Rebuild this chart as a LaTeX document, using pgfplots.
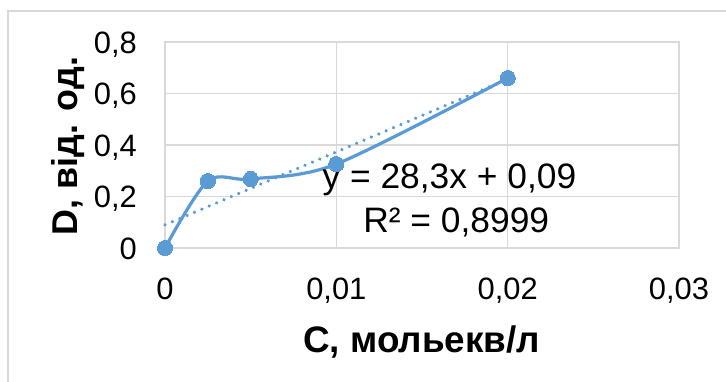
\documentclass[border=0pt]{standalone}
\usepackage{pgfplots}
\pgfplotsset{compat=1.18}
\usepackage{fontspec}
\setmainfont{Liberation Sans}
\definecolor{exblue}{HTML}{5B9BD5}
\definecolor{exgrid}{HTML}{D9D9D9}
\begin{document}
\begin{tikzpicture}[x=1bp,y=1bp]
\path[use as bounding box] (0,0) rectangle (726,-381);
\draw[exgrid, line width=1.2bp] (8,-11) rectangle (780,-440);
\begin{axis}[
  at={(165bp,-248bp)}, anchor=south west,
  scale only axis, width=514bp, height=206bp,
  xmin=0, xmax=0.03, ymin=0, ymax=0.8,
  clip=false,
  xtick={0,0.01,0.02,0.03}, ytick={0,0.2,0.4,0.6,0.8},
  xticklabels={0,{0,01},{0,02},{0,03}},
  yticklabels={0,{0,2},{0,4},{0,6},{0,8}},
  scaled x ticks=false, scaled y ticks=false,
  grid=major, grid style={exgrid, line width=1.2bp},
  axis line style={exgrid, line width=1.2bp},
  tick style={draw=none},
  ticklabel style={font=\fontsize{31}{36}\selectfont, inner sep=0pt},
  xticklabel style={anchor=base, yshift=-51bp},
  yticklabel style={anchor=base east, xshift=-28bp, yshift=-11bp},
  xlabel={C, мольекв/л},
  ylabel={D, від. од.},
  xlabel style={at={(axis description cs:0.4995,0)}, anchor=base, yshift=-104bp, font=\bfseries\fontsize{37}{40}\selectfont, inner sep=0pt},
  ylabel style={at={(axis description cs:-0.1712,0.495)}, anchor=base, rotate=0, font=\bfseries\fontsize{36}{40}\selectfont, inner sep=0pt},
]
\addplot[exblue, line width=3.2bp, smooth, tension=0.5, mark=*, mark size=7.6bp, mark options={fill=exblue, draw=exblue, line width=0pt, solid}]
  coordinates {(0,0) (0.0025,0.26) (0.005,0.268) (0.01,0.326) (0.02,0.66)};
\addplot[exblue, line width=3.6bp, line cap=round, dash pattern=on 0.01bp off 8bp]
  coordinates {(0,0.09) (0.02,0.656)};
\node[anchor=base, font=\fontsize{35.5}{40}\selectfont, inner sep=0pt] at (axis cs:0.0166,0.233) {y = 28,3x + 0,09};
\node[anchor=base, font=\fontsize{35.5}{40}\selectfont, inner sep=0pt] at (axis cs:0.0170,0.062) {R² = 0,8999};
\end{axis}
\end{tikzpicture}
\end{document}
